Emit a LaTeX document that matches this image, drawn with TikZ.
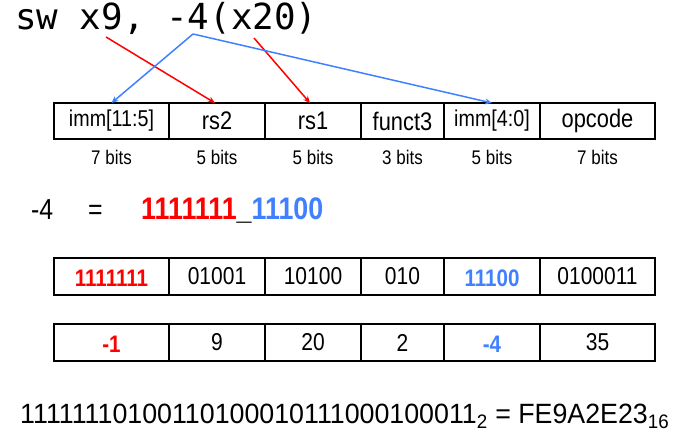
\documentclass[tikz,border=0pt]{standalone}
\usepackage{fontspec}
\setmainfont{Liberation Sans}[FakeStretch=0.86]
\newfontfamily\bottomfont{Liberation Sans}[FakeStretch=0.96]
\newfontfamily\codefont{DejaVu Sans Mono}
\usetikzlibrary{arrows.meta}
\definecolor{myred}{RGB}{255,0,0}
\definecolor{myblue}{RGB}{64,128,255}
\begin{document}
\begin{tikzpicture}[x=1bp,y=-1bp,
  cell/.style={draw=black,line width=1.8bp,minimum height=36bp,inner sep=0pt,outer sep=0pt,
    anchor=north west,font=\fontsize{25.5}{25.5}\selectfont},
  immcell/.style={cell,font=\fontsize{23}{23}\selectfont},
  valcell/.style={cell,minimum height=37bp,font=\fontsize{24.5}{24.5}\selectfont},
  bits/.style={font=\fontsize{19.8}{19.8}\selectfont,inner sep=0pt},
  redtxt/.style={text=myred,font=\fontsize{24}{24}\selectfont\bfseries},
  bluetxt/.style={text=myblue,font=\fontsize{24}{24}\selectfont\bfseries},
  redarrow/.style={draw=myred,line width=1.5bp,-{Stealth[length=7bp,width=6bp]}},
  bluearrow/.style={draw=myblue,line width=1.5bp,-{Stealth[length=7bp,width=6bp]}},
  big/.style={font=\fontsize{29}{29}\selectfont,inner sep=0pt,anchor=base west}]
\useasboundingbox (0,0) rectangle (689,444);

% instruction
\node[font=\fontsize{36}{36}\selectfont\codefont,inner sep=0pt,anchor=base west] (instr) at (15,30) {sw x9, -4(x20)};

% row 1
\node[immcell,minimum width=115bp] (a1) at (54,103) {imm[11:5]};
\node[cell,minimum width=96bp] (a2) at (169,103) {rs2};
\node[cell,minimum width=96bp] (a3) at (265,103) {rs1};
\node[cell,minimum width=83bp] (a4) at (361,103) {funct3};
\node[immcell,minimum width=96bp] (a5) at (444,103) {imm[4:0]};
\node[cell,minimum width=115bp] (a6) at (540,103) {opcode};

\node[bits] (b1) at ([yshift=-18bp]a1.south) {7 bits};
\node[bits] (b2) at ([yshift=-18bp]a2.south) {5 bits};
\node[bits] (b3) at ([yshift=-18bp]a3.south) {5 bits};
\node[bits] (b4) at ([yshift=-18bp]a4.south) {3 bits};
\node[bits] (b5) at ([yshift=-18bp]a5.south) {5 bits};
\node[bits] (b6) at ([yshift=-18bp]a6.south) {7 bits};

% arrows
\coordinate (r1s) at (106,37);
\coordinate (r2s) at (254,38);
\coordinate (bs) at (193,34);
\draw[redarrow] (r1s) -- ([xshift=-2bp]a2.north);
\draw[redarrow] (r2s) -- ([xshift=-3bp]a3.north);
\draw[bluearrow] (bs) -- (a1.north);
\draw[bluearrow] (bs) -- (a5.north);

% -4 = ...
\node[big] (m4) at (31,220) {-4};
\node[big] (eq) at (88,220) {=};
\node[big,font=\fontsize{31.3}{31.3}\selectfont\bfseries] (val) at (141,220) {\textcolor{myred}{1111111}\_\textcolor{myblue}{11100}};

% row 2
\node[valcell,minimum width=115bp] (c1) at (54,258) {};
\node[redtxt] at ([yshift=-2bp]c1.center) {1111111};
\node[valcell,minimum width=96bp] (c2) at (169,258) {01001};
\node[valcell,minimum width=96bp] (c3) at (265,258) {10100};
\node[valcell,minimum width=83bp] (c4) at (361,258) {010};
\node[valcell,minimum width=96bp] (c5) at (444,258) {};
\node[bluetxt] at ([yshift=-2bp]c5.center) {11100};
\node[valcell,minimum width=115bp] (c6) at (540,258) {0100011};

% row 3
\node[valcell,minimum width=115bp] (d1) at (54,324) {};
\node[redtxt] at ([yshift=-2bp]d1.center) {-1};
\node[valcell,minimum width=96bp] (d2) at (169,324) {9};
\node[valcell,minimum width=96bp] (d3) at (265,324) {20};
\node[valcell,minimum width=83bp] (d4) at (361,324) {2};
\node[valcell,minimum width=96bp] (d5) at (444,324) {};
\node[bluetxt] at ([yshift=-2bp]d5.center) {-4};
\node[valcell,minimum width=115bp] (d6) at (540,324) {35};

% bottom
\node[big,font=\fontsize{28}{28}\selectfont\bottomfont] (bin) at (20,423) {11111110100110100010111000100011\textsubscript{2} = FE9A2E23\textsubscript{16}};
\end{tikzpicture}
\end{document}
